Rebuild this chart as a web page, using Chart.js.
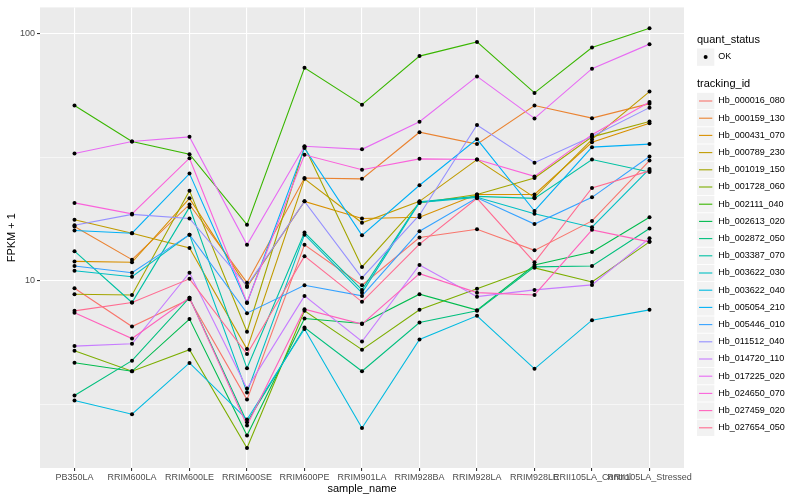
<!DOCTYPE html>
<html>
<head>
<meta charset="utf-8">
<script src="https://cdn.jsdelivr.net/npm/chart.js@4.4.1/dist/chart.umd.min.js"></script>
<style>
  html, body { margin: 0; padding: 0; background: #fff; }
  #wrap { width: 800px; height: 500px; }
</style>
</head>
<body>
<div id="wrap"><canvas id="fpkmChart" width="800" height="500"></canvas></div>
<script>
// sample names on the x axis
var categories = ['PB350LA', 'RRIM600LA', 'RRIM600LE', 'RRIM600SE', 'RRIM600PE', 'RRIM901LA',
  'RRIM928BA', 'RRIM928LA', 'RRIM928LE', 'RRII105LA_Control', 'RRII105LA_Stressed'];

// y axis breaks (FPKM + 1, log scale)
var yMajorTicks = [10, 100];
var yMinorTicks = [3.1623, 31.623];

var trackingIds = ['Hb_000016_080', 'Hb_000159_130', 'Hb_000431_070', 'Hb_000789_230', 'Hb_001019_150',
  'Hb_001728_060', 'Hb_002111_040', 'Hb_002613_020', 'Hb_002872_050', 'Hb_003387_070',
  'Hb_003622_030', 'Hb_003622_040', 'Hb_005054_210', 'Hb_005446_010', 'Hb_011512_040',
  'Hb_014720_110', 'Hb_017225_020', 'Hb_024650_070', 'Hb_027459_020', 'Hb_027654_050'];

var seriesColors = ['#F8766D', '#EA8331', '#D89000', '#C09B00', '#A3A500', '#7CAE00', '#39B600',
  '#00BB4E', '#00BF7D', '#00C1A3', '#00BFC4', '#00BAE0', '#00B0F6', '#35A2FF', '#9590FF',
  '#C77CFF', '#E76BF3', '#FA62DB', '#FF62BC', '#FF6C91'];

// FPKM + 1 per gene, one value per sample
var hb000016_080 = [9.35, 6.54, 8.44, 3.31, 14.0, 9.61, 15.0, 16.2, 13.3, 17.5, 30.7];
var hb000159_130 = [16.6, 12.2, 20.4, 9.84, 26.1, 25.9, 40.0, 35.8, 51.3, 45.6, 52.2];
var hb000431_070 = [12.0, 11.9, 21.6, 9.46, 21.0, 17.9, 18.1, 22.4, 22.4, 36.4, 43.5];
var hb000789_230 = [17.7, 15.6, 13.6, 5.30, 25.9, 17.2, 21.0, 31.0, 21.8, 37.4, 58.4];
var hb001019_150 = [8.84, 8.78, 23.2, 6.23, 34.9, 11.4, 20.7, 22.4, 26.1, 38.3, 44.2];
var hb001728_060 = [5.22, 4.31, 5.27, 2.11, 7.57, 5.27, 7.64, 9.31, 11.3, 9.91, 14.4];
var hb002111_040 = [51.3, 36.7, 32.6, 16.9, 72.9, 51.7, 81.3, 92.8, 57.7, 88.1, 105.4];
var hb002613_020 = [4.67, 4.31, 7.01, 2.37, 7.05, 6.73, 8.84, 7.62, 11.6, 13.1, 18.1];
var hb002872_050 = [3.44, 4.76, 8.56, 2.68, 6.48, 4.31, 6.79, 7.57, 11.4, 11.5, 16.3];
var hb003387_070 = [13.2, 8.18, 19.9, 4.43, 15.7, 9.20, 20.9, 22.0, 21.6, 31.0, 27.6];
var hb003622_030 = [11.0, 10.4, 15.4, 3.54, 15.4, 8.95, 20.8, 21.8, 18.7, 16.5, 28.4];
var hb003622_040 = [3.28, 2.89, 4.66, 2.75, 6.39, 2.54, 5.80, 7.23, 4.41, 6.94, 7.64];
var hb005054_210 = [16.0, 15.6, 27.2, 8.15, 34.5, 15.3, 24.4, 37.5, 19.2, 34.8, 35.8];
var hb005446_010 = [11.5, 10.8, 15.4, 7.41, 9.61, 8.70, 15.9, 21.7, 17.0, 21.8, 31.9];
var hb011512_040 = [16.8, 18.6, 17.9, 9.55, 21.0, 10.3, 18.5, 42.8, 30.1, 38.4, 50.3];
var hb014720_110 = [5.45, 5.57, 10.8, 3.67, 8.70, 5.69, 11.6, 8.64, 9.20, 9.64, 14.9];
var hb017225_020 = [32.8, 36.7, 38.3, 14.0, 35.1, 34.1, 44.1, 67.3, 45.5, 72.3, 90.9];
var hb024650_070 = [20.7, 18.7, 31.4, 8.18, 32.4, 28.2, 31.2, 31.0, 26.5, 39.1, 53.0];
var hb027459_020 = [7.43, 5.85, 8.56, 2.60, 7.69, 6.69, 10.7, 8.97, 8.78, 16.1, 14.4];
var hb027654_050 = [7.57, 8.18, 10.2, 5.06, 12.6, 8.23, 14.1, 21.6, 11.9, 23.8, 27.9];

var seriesValues = [hb000016_080, hb000159_130, hb000431_070, hb000789_230, hb001019_150,
  hb001728_060, hb002111_040, hb002613_020, hb002872_050, hb003387_070, hb003622_030,
  hb003622_040, hb005054_210, hb005446_010, hb011512_040, hb014720_110, hb017225_020,
  hb024650_070, hb027459_020, hb027654_050];

var FONT = '"Liberation Sans", Arial, sans-serif';
Chart.defaults.font.family = FONT;

function toPoints(vals) {
  return vals.map(function(v, i) { return { x: i, y: v }; });
}

// lines first (gene 1 at the bottom), black points on top of everything
var datasets = [];
seriesValues.forEach(function(vals, i) {
  datasets.push({
    label: trackingIds[i],
    data: toPoints(vals),
    borderColor: seriesColors[i],
    borderWidth: 1.1,
    pointRadius: 0,
    fill: false,
    tension: 0,
    order: 100 - i
  });
});
seriesValues.forEach(function(vals, i) {
  datasets.push({
    label: trackingIds[i] + ' OK',
    data: toPoints(vals),
    showLine: false,
    pointRadius: 2,
    pointBackgroundColor: '#000',
    pointBorderWidth: 0,
    order: 1
  });
});

function isMajor(v) {
  return yMajorTicks.some(function(m) { return Math.abs(m - v) < 1e-6; });
}

// grey panel, axis titles and the ggplot-like legend
var ggPlugin = {
  id: 'ggLook',
  beforeDraw: function(chart) {
    var c = chart.ctx, a = chart.chartArea;
    c.save();
    c.fillStyle = '#EBEBEB';
    c.fillRect(a.left, a.top, a.right - a.left, a.bottom - a.top);
    c.restore();
  },
  afterDraw: function(chart) {
    var c = chart.ctx, a = chart.chartArea;
    c.save();
    c.fillStyle = '#000';
    c.font = '11px ' + FONT;
    c.textAlign = 'center';
    c.textBaseline = 'middle';
    c.fillText('sample_name', (a.left + a.right) / 2, 489);
    c.save();
    c.translate(12, (a.top + a.bottom) / 2);
    c.rotate(-Math.PI / 2);
    c.fillText('FPKM + 1', 0, 0);
    c.restore();

    // legend
    var lx = 697, kw = 17.3;
    c.textAlign = 'left';
    c.font = '11px ' + FONT;
    c.fillText('quant_status', lx, 40);
    c.fillStyle = '#F2F2F2';
    c.fillRect(lx, 48.5, kw, kw);
    c.fillStyle = '#000';
    c.beginPath();
    c.arc(lx + kw / 2, 57, 2, 0, Math.PI * 2);
    c.fill();
    c.font = '9px ' + FONT;
    c.fillText('OK', lx + kw + 4, 57);

    c.font = '11px ' + FONT;
    c.fillText('tracking_id', lx, 84);
    c.font = '9px ' + FONT;
    trackingIds.forEach(function(id, i) {
      var cy = 101 + i * 17.2;
      c.fillStyle = '#F2F2F2';
      c.fillRect(lx, cy - kw / 2 + 0.5, kw, kw - 1);
      c.strokeStyle = seriesColors[i];
      c.lineWidth = 1.1;
      c.beginPath();
      c.moveTo(lx + 2, cy);
      c.lineTo(lx + kw - 2, cy);
      c.stroke();
      c.fillStyle = '#000';
      c.fillText(id, lx + kw + 4, cy);
    });
    c.restore();
  }
};

var ctx = document.getElementById('fpkmChart').getContext('2d');
var fpkmChart = new Chart(ctx, {
  type: 'line',
  data: { datasets: datasets },
  plugins: [ggPlugin],
  options: {
    responsive: false,
    animation: false,
    events: [],
    layout: { padding: { left: 0, right: 116, top: 5, bottom: 0 } },
    plugins: { legend: { display: false }, tooltip: { enabled: false } },
    scales: {
      x: {
        type: 'linear',
        min: -0.6,
        max: 10.6,
        afterBuildTicks: function(scale) {
          scale.ticks = categories.map(function(c, i) { return { value: i }; });
        },
        afterFit: function(scale) { scale.height = 32; },
        ticks: {
          autoSkip: false,
          maxRotation: 0,
          padding: 1,
          color: '#4D4D4D',
          font: { size: 9 },
          callback: function(v) { return categories[v]; }
        },
        grid: {
          color: '#FFFFFF',
          lineWidth: 1.1,
          tickColor: '#333333',
          tickLength: 3
        },
        border: { display: false }
      },
      y: {
        type: 'logarithmic',
        min: 1.75,
        max: 128,
        afterBuildTicks: function(scale) {
          scale.ticks = yMinorTicks.concat(yMajorTicks).sort(function(p, q) { return p - q; })
            .map(function(v) { return { value: v }; });
        },
        afterFit: function(scale) { scale.width = 40; },
        ticks: {
          padding: 2,
          color: '#4D4D4D',
          font: { size: 9 },
          callback: function(v) { return isMajor(v) ? String(Math.round(v)) : ''; }
        },
        grid: {
          color: '#FFFFFF',
          lineWidth: function(c) { return c.tick && isMajor(c.tick.value) ? 1.1 : 0.55; },
          tickColor: function(c) { return c.tick && isMajor(c.tick.value) ? '#333333' : 'rgba(0,0,0,0)'; },
          tickLength: 3
        },
        border: { display: false }
      }
    }
  }
});
</script>
</body>
</html>
